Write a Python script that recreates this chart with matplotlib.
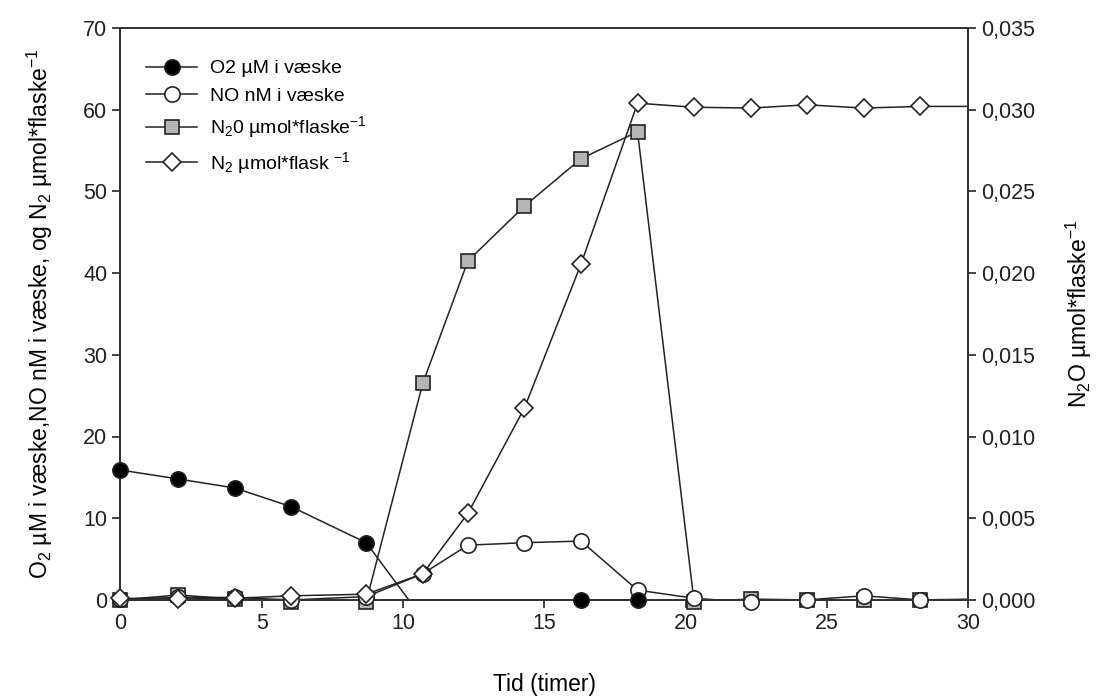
import numpy as np
import matplotlib
matplotlib.use("Agg")
import matplotlib.pyplot as plt
from matplotlib.ticker import FuncFormatter

plt.rcParams['font.family'] = ['Liberation Sans', 'DejaVu Sans']
plt.rcParams['mathtext.default'] = 'regular'

# time (hours); last point lies just past the axis end
tid = np.array([0, 2.05, 4.05, 6.05, 8.7, 10.7, 12.3, 14.3, 16.3, 18.3,
                20.3, 22.3, 24.3, 26.3, 28.3, 30.3])

o2 = np.array([15.9, 14.8, 13.7, 11.4, 7.0, -2.3, -1.5, -0.8, 0.0, 0.0,
               np.nan, np.nan, np.nan, np.nan, np.nan, np.nan])
no = np.array([0.1, 0.3, 0.3, 0.0, 0.4, 3.2, 6.7, 7.0, 7.2, 1.2,
               0.2, -0.3, 0.0, 0.5, 0.0, 0.1])
n2 = np.array([0.2, 0.1, 0.2, 0.5, 0.7, 3.2, 10.6, 23.5, 41.1, 60.8,
               60.3, 60.2, 60.6, 60.2, 60.4, 60.4])
n2o = np.array([0.0, 0.0003, 0.00005, -0.0001, -0.0001, 0.01325, 0.02075,
                0.0241, 0.0270, 0.02865, -0.0001, 0.00005, 0.0, 0.0, 0.0, 0.0])

lab_o2 = "O2 µM i væske"
lab_no = "NO nM i væske"
lab_n2o = "N$_2$0 µmol*flaske$^{-1}$"
lab_n2 = "N$_2$ µmol*flask $^{-1}$"

fig = plt.figure(figsize=(11.04, 7), dpi=100)
ax = fig.add_axes([0.109, 0.143, 0.768, 0.817])
ax2 = ax.twinx()
# left axis on top so diamonds sit over the squares
ax.set_zorder(ax2.get_zorder() + 1)
ax.patch.set_visible(False)

lc = '#222222'
lw = 1.1
vis = tid <= 30


def series(a, x, y, marker, face, ms, label):
    a.plot(x, y, '-', color=lc, lw=lw, clip_on=True, zorder=2)
    m = vis & ~np.isnan(y) & (y >= -0.0005 if a is ax2 else y >= -0.5)
    a.plot(x[m], y[m], ls='none', marker=marker, mfc=face, mec=lc, mew=1.2,
           ms=ms, clip_on=False, zorder=3)
    h, = a.plot([], [], '-', color=lc, lw=lw, marker=marker, mfc=face,
                mec=lc, mew=1.2, ms=ms, label=label)
    return h


h_n2o = series(ax2, tid, n2o, 's', '#b4b4b4', 10, lab_n2o)
h_no = series(ax, tid, no, 'o', 'white', 11, lab_no)
h_n2 = series(ax, tid, n2, 'D', 'white', 9, lab_n2)
h_o2 = series(ax, tid, o2, 'o', 'black', 11, lab_o2)

ax.set_xlim(0, 30)
ax.set_ylim(0, 70)
ax2.set_ylim(0, 0.035)
ax.set_xticks(np.arange(0, 31, 5))
ax.set_yticks(np.arange(0, 71, 10))
ax2.set_yticks(np.arange(0, 0.0351, 0.005))
ax2.yaxis.set_major_formatter(FuncFormatter(lambda v, p: f"{v:.3f}".replace('.', ',')))

for a in (ax, ax2):
    a.tick_params(direction='out', length=6, width=1.2, labelsize=15.5, colors='#222222')
    for s in a.spines.values():
        s.set_linewidth(1.3)
        s.set_color('#333333')

ax.set_xlabel("Tid (timer)", fontsize=16.5, labelpad=28)
ax.set_ylabel("O$_2$ µM i væske,NO nM i væske, og N$_2$ µmol*flaske$^{-1}$",
              fontsize=16.5, labelpad=20)
ax2.set_ylabel("N$_2$O µmol*flaske$^{-1}$", fontsize=16.5, labelpad=20)

ax.legend(handles=[h_o2, h_no, h_n2o, h_n2], loc='upper left',
          bbox_to_anchor=(0.01, 0.975), frameon=False, fontsize=14,
          handlelength=2.6, handletextpad=0.7, labelspacing=0.5)

fig.savefig("out.png", dpi=100)
